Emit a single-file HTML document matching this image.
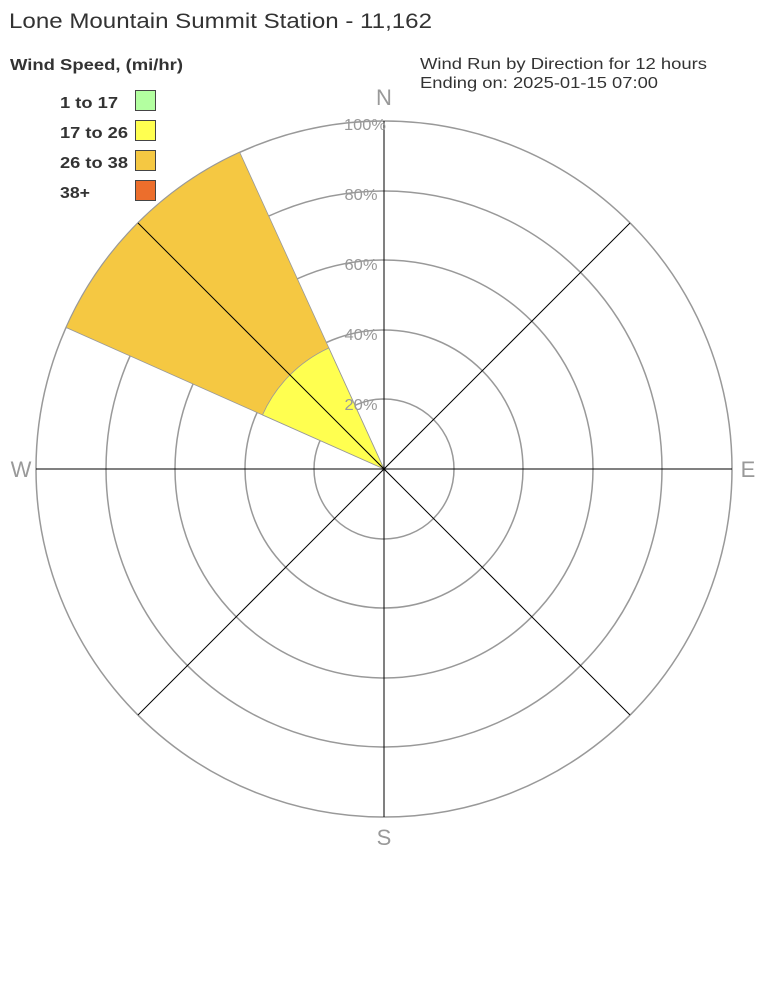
<!DOCTYPE html>
<html><head><meta charset="utf-8"><style>
body{margin:0;background:#fff;width:768px;height:1008px;overflow:hidden}
svg{display:block}
</style></head><body>
<svg width="768" height="1008" xmlns="http://www.w3.org/2000/svg" font-family="Liberation Sans, Arial, sans-serif">
<rect width="768" height="1008" fill="#fff"/>
<text x="9" y="28" font-size="21" fill="#333" textLength="423" lengthAdjust="spacingAndGlyphs">Lone Mountain Summit Station - 11,162</text>
<text x="10" y="70" font-size="16" font-weight="bold" fill="#333" textLength="173" lengthAdjust="spacingAndGlyphs">Wind Speed, (mi/hr)</text>
<text x="420" y="69" font-size="16" fill="#333" textLength="287" lengthAdjust="spacingAndGlyphs">Wind Run by Direction for 12 hours</text>
<text x="420" y="88" font-size="16" fill="#333" textLength="238" lengthAdjust="spacingAndGlyphs">Ending on: 2025-01-15 07:00</text>
<g font-size="16" font-weight="bold" fill="#333">
<text x="60" y="108" textLength="58" lengthAdjust="spacingAndGlyphs">1 to 17</text>
<text x="60" y="138" textLength="68" lengthAdjust="spacingAndGlyphs">17 to 26</text>
<text x="60" y="168" textLength="68" lengthAdjust="spacingAndGlyphs">26 to 38</text>
<text x="60" y="198" textLength="30" lengthAdjust="spacingAndGlyphs">38+</text>
</g>
<g stroke="#444" stroke-width="1">
<rect x="135.5" y="90.5" width="20" height="20" fill="#b3ffa0"/>
<rect x="135.5" y="120.5" width="20" height="20" fill="#ffff50"/>
<rect x="135.5" y="150.5" width="20" height="20" fill="#f5c842"/>
<rect x="135.5" y="180.5" width="20" height="20" fill="#ec6e2c"/>
</g>
<g fill="none" stroke="#999" stroke-width="1.5">
<circle cx="384" cy="469" r="70"/>
<circle cx="384" cy="469" r="139"/>
<circle cx="384" cy="469" r="209"/>
<circle cx="384" cy="469" r="278"/>
<circle cx="384" cy="469" r="348"/>
</g>
<path d="M384,469 L66.1,327.5 A348,348 0 0 1 239.7,152.3 Z" fill="#f5c842" stroke="#999" stroke-width="0.8"/>
<path d="M384,469 L262.5,414.9 A133,133 0 0 1 328.8,348 Z" fill="#ffff50" stroke="#999" stroke-width="0.8"/>
<g stroke="#000" stroke-width="1">
<line x1="384" y1="121" x2="384" y2="817"/>
<line x1="36" y1="469" x2="732" y2="469"/>
<line x1="138" y1="223" x2="630" y2="715"/>
<line x1="138" y1="715" x2="630" y2="223"/>
</g>
<g font-size="16" fill="#999" text-anchor="middle">
<text x="365" y="130" textLength="42" lengthAdjust="spacingAndGlyphs">100%</text>
<text x="361" y="200" textLength="33" lengthAdjust="spacingAndGlyphs">80%</text>
<text x="361" y="270" textLength="33" lengthAdjust="spacingAndGlyphs">60%</text>
<text x="361" y="340" textLength="33" lengthAdjust="spacingAndGlyphs">40%</text>
<text x="361" y="410" textLength="33" lengthAdjust="spacingAndGlyphs">20%</text>
</g>
<g font-size="22" fill="#999" text-anchor="middle">
<text x="384" y="105">N</text>
<text x="384" y="845">S</text>
<text x="21" y="477">W</text>
<text x="748" y="477">E</text>
</g>
</svg>
</body></html>
